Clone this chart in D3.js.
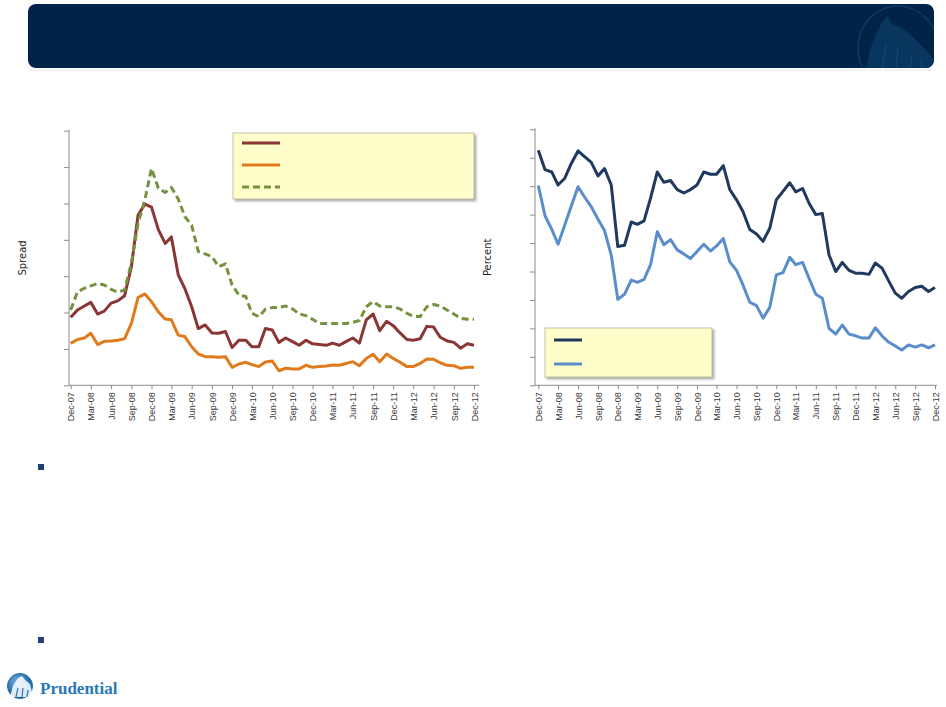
<!DOCTYPE html>
<html>
<head>
<meta charset="utf-8">
<script src="https://cdn.jsdelivr.net/npm/d3@7"></script>
<style>
  html, body { margin: 0; padding: 0; background: #fff; }
  svg { display: block; font-family: "DejaVu Sans", Verdana, sans-serif; }
  .tick text { fill: #3a3a3a; font-size: 9px; }
  .tick line { stroke: #8c8c8c; }
</style>
</head>
<body>
<script>
// months Dec-07 .. Dec-12 (61 monthly points)
const months = d3.utcMonth.range(new Date(Date.UTC(2007, 11, 1)), new Date(Date.UTC(2013, 0, 1)));
const tickMonths = months.filter((d, i) => i % 3 === 0);

// left chart: spreads
const spreadRed = [93.5, 103.6, 109, 114, 98, 102, 113, 116, 123, 163, 234, 249, 245, 214, 195, 204,
  152, 133, 108, 78, 83, 72, 71.5, 74, 52, 62, 62, 53, 53, 78, 76, 59, 65, 60, 55, 62, 57, 56, 55,
  58, 55, 60, 65, 58, 90, 98, 75, 88, 82, 72, 63, 62, 64, 81, 80, 66, 61, 59, 51, 57, 55];
const spreadOrange = [57.7, 63, 65, 71.5, 56, 60.5, 61, 62, 64, 85, 120.5, 125.6, 115, 101, 91, 90,
  69, 67, 53, 43, 39.4, 39.4, 38.5, 39.4, 24.7, 29.3, 31.6, 28.4, 25.7, 32, 33.5, 20, 23.4, 22.5,
  22.5, 27.5, 24.7, 25.7, 26.6, 28, 27.5, 30, 32.5, 27, 36.7, 42.6, 32.5, 43, 37, 31.6, 25.7, 25.7,
  30, 36, 35.7, 31, 27.5, 27, 23.4, 24.7, 24.7];
const spreadGreen = [103.6, 128.8, 133.4, 136.6, 140, 138, 132, 128, 131, 168, 222.7, 255, 298, 271,
  265, 272, 256, 232, 220, 184, 180.6, 177, 163, 167, 138, 124, 122, 99, 94.4, 104.5, 106.8, 107,
  109, 105, 98, 95.8, 90.7, 85, 85, 85, 85, 85, 86.6, 89, 108, 115, 109, 108, 108, 105, 99, 95,
  94.4, 108, 111, 109, 103.6, 98, 92, 90.7, 90.7];
const spreadTicks = [0, 50, 100, 150, 200, 250, 300, 350];

// right chart: percent
const pctDark = [4.13, 3.79, 3.75, 3.52, 3.64, 3.90, 4.12, 4.02, 3.92, 3.68, 3.81, 3.52, 2.44, 2.46,
  2.87, 2.83, 2.89, 3.29, 3.75, 3.57, 3.60, 3.44, 3.38, 3.44, 3.52, 3.75, 3.71, 3.71, 3.86, 3.44,
  3.26, 3.05, 2.74, 2.66, 2.53, 2.76, 3.26, 3.41, 3.56, 3.40, 3.46, 3.20, 3.00, 3.02, 2.29, 2.00,
  2.16, 2.02, 1.97, 1.97, 1.95, 2.15, 2.06, 1.84, 1.62, 1.53, 1.65, 1.72, 1.74, 1.65, 1.72];
const pctLight = [3.51, 2.98, 2.74, 2.48, 2.82, 3.15, 3.49, 3.31, 3.14, 2.92, 2.72, 2.29, 1.51, 1.60,
  1.85, 1.81, 1.86, 2.12, 2.70, 2.47, 2.56, 2.38, 2.31, 2.23, 2.35, 2.48, 2.36, 2.45, 2.58, 2.17,
  2.02, 1.76, 1.46, 1.40, 1.18, 1.37, 1.94, 1.98, 2.25, 2.12, 2.16, 1.88, 1.60, 1.53, 1.00, 0.90,
  1.06, 0.90, 0.87, 0.83, 0.83, 1.01, 0.87, 0.76, 0.69, 0.62, 0.71, 0.67, 0.71, 0.66, 0.71];
const pctTicks = [0, 0.5, 1, 1.5, 2, 2.5, 3, 3.5, 4, 4.5];

const W = 946, H = 707;
const svg = d3.select("body").append("svg").attr("width", W).attr("height", H);

const defs = svg.append("defs");
const shadow = defs.append("filter").attr("id", "shadow")
  .attr("x", "-10%").attr("y", "-10%").attr("width", "130%").attr("height", "140%");
shadow.append("feDropShadow").attr("dx", 2).attr("dy", 2).attr("stdDeviation", 1.2)
  .attr("flood-color", "#777").attr("flood-opacity", 0.6);
defs.append("clipPath").attr("id", "hdrclip")
  .append("rect").attr("x", 28).attr("y", 4).attr("width", 906).attr("height", 64).attr("rx", 8);
const grad = defs.append("radialGradient").attr("id", "logograd").attr("cx", "40%").attr("cy", "35%");
grad.append("stop").attr("offset", "0%").attr("stop-color", "#7fb6e0");
grad.append("stop").attr("offset", "100%").attr("stop-color", "#1f6aa8");

// header bar
svg.append("rect").attr("x", 28).attr("y", 4).attr("width", 906).attr("height", 64)
  .attr("rx", 8).attr("fill", "#012348");
svg.append("line").attr("x1", 30).attr("x2", 932).attr("y1", 70).attr("y2", 70)
  .attr("stroke", "#eef0f4").attr("stroke-width", 1.5);
const wm = svg.append("g").attr("clip-path", "url(#hdrclip)");
wm.append("ellipse").attr("cx", 898).attr("cy", 48).attr("rx", 40).attr("ry", 42)
  .attr("fill", "none").attr("stroke", "#0b3b68").attr("stroke-width", 1.6);
wm.append("path")
  .attr("d", "M866,72 L870,50 L876,34 L882,22 L888,16 L892,24 L902,28 L914,38 L926,50 L934,60 L934,72 Z")
  .attr("fill", "#09365f");
wm.append("path")
  .attr("d", "M882,70 L886,44 M896,70 L898,48 M910,70 L912,54 M922,70 L921,58")
  .attr("stroke", "#0d4676").attr("stroke-width", 1.3);

function drawChart(opt) {
  const x = d3.scaleUtc().domain(d3.extent(months)).range([opt.x0, opt.x1]);
  const y = d3.scaleLinear().domain(opt.domain).range([opt.yb, opt.yt]);
  const g = svg.append("g");

  const yAxis = g.append("g").attr("transform", `translate(${opt.ax},0)`)
    .call(d3.axisLeft(y).tickValues(opt.ticks).tickFormat("").tickSize(5).tickSizeOuter(0));
  yAxis.select(".domain").remove();
  const xAxis = g.append("g").attr("transform", `translate(0,${opt.yb})`)
    .call(d3.axisBottom(x).tickValues(tickMonths).tickFormat(d3.utcFormat("%b-%y"))
      .tickSize(4).tickSizeOuter(0));
  xAxis.select(".domain").remove();
  xAxis.selectAll("text")
    .attr("transform", "rotate(-90)")
    .attr("text-anchor", "end")
    .attr("x", -7).attr("y", 0).attr("dy", "0.35em");

  g.append("line").attr("x1", opt.ax).attr("x2", opt.ax).attr("y1", opt.yt - 1).attr("y2", opt.yb)
    .attr("stroke", "#8c8c8c");
  g.append("line").attr("x1", opt.ax).attr("x2", opt.axEnd).attr("y1", opt.yb).attr("y2", opt.yb)
    .attr("stroke", "#8c8c8c");

  g.append("text")
    .attr("transform", `translate(${opt.labelX},${(opt.yt + opt.yb) / 2}) rotate(-90)`)
    .attr("text-anchor", "middle").attr("font-size", 10).attr("fill", "#222")
    .text(opt.label);

  const line = d3.line().x((d, i) => x(months[i])).y(d => y(d));
  opt.series.forEach(s => {
    g.append("path").datum(s.values)
      .attr("fill", "none").attr("stroke", s.color).attr("stroke-width", 3)
      .attr("stroke-linejoin", "round")
      .attr("stroke-dasharray", s.dash || null)
      .attr("d", line);
  });

  const lg = opt.legend;
  g.append("rect").attr("x", lg.x).attr("y", lg.y).attr("width", lg.w).attr("height", lg.h)
    .attr("fill", "#fffdc9").attr("stroke", "#b5b39a").attr("stroke-width", 0.8)
    .attr("filter", "url(#shadow)");
  opt.series.forEach((s, i) => {
    const ly = lg.y + lg.first + i * lg.gap;
    g.append("line").attr("x1", lg.x + 9).attr("x2", lg.x + 9 + lg.len)
      .attr("y1", ly).attr("y2", ly)
      .attr("stroke", s.color).attr("stroke-width", 3)
      .attr("stroke-dasharray", s.dash || null);
  });
}

drawChart({
  x0: 70.7, x1: 474, ax: 69, axEnd: 479, yt: 130.7, yb: 385.3,
  domain: [0, 350], ticks: spreadTicks, label: "Spread", labelX: 26,
  series: [
    { values: spreadRed, color: "#8b3535" },
    { values: spreadOrange, color: "#e07a1c" },
    { values: spreadGreen, color: "#76913f", dash: "7,4" }
  ],
  legend: { x: 233, y: 133, w: 241, h: 66, first: 10, gap: 22, len: 38 }
});

drawChart({
  x0: 538.3, x1: 935, ax: 535, axEnd: 937, yt: 129.3, yb: 385.3,
  domain: [0, 4.5], ticks: pctTicks, label: "Percent", labelX: 491,
  series: [
    { values: pctDark, color: "#1f3a5e" },
    { values: pctLight, color: "#5b8dcb" }
  ],
  legend: { x: 545, y: 328, w: 167, h: 49, first: 12, gap: 24, len: 28 }
});

// bullets
svg.selectAll("rect.bullet").data([464, 637]).join("rect").attr("class", "bullet")
  .attr("x", 38).attr("y", d => d).attr("width", 6).attr("height", 6).attr("fill", "#1f3f77");

// logo
const logo = svg.append("g");
logo.append("circle").attr("cx", 20).attr("cy", 686).attr("r", 12.5).attr("fill", "url(#logograd)")
  .attr("stroke", "#1f6aa8").attr("stroke-width", 1);
logo.append("path").attr("d", "M10,697 L13,686 L18,678 L22,676 L25,680 L30,684 L32,692 L30,697 Z")
  .attr("fill", "#ffffff").attr("opacity", 0.85);
logo.append("path").attr("d", "M16,697 L18,688 M22,697 L23,688 M27,697 L28,690")
  .attr("stroke", "#2a78b8").attr("stroke-width", 1.2);
logo.append("text").attr("x", 40).attr("y", 694)
  .attr("font-family", "'Liberation Serif', 'DejaVu Serif', serif")
  .attr("font-weight", "bold").attr("font-size", 17).attr("fill", "#2a78b8")
  .text("Prudential");
</script>
</body>
</html>
